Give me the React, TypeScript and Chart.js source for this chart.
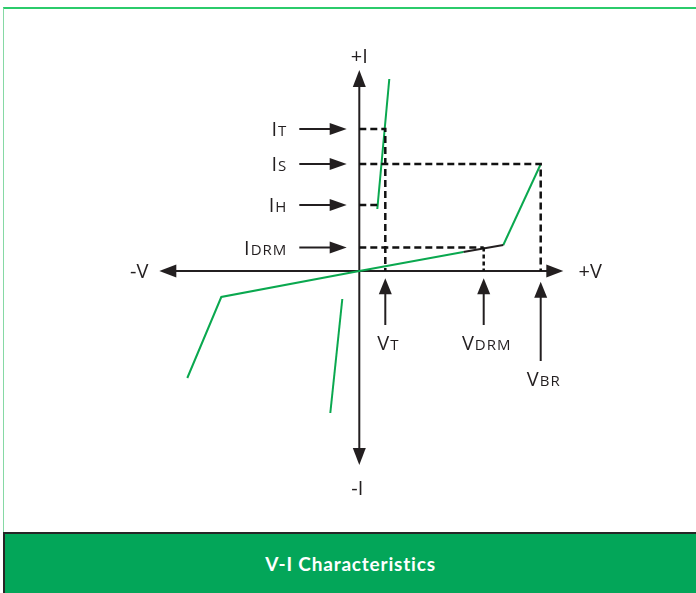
import React, { useEffect, useRef } from "react";
import { Chart, registerables } from "chart.js";

Chart.register(...registerables);

// ---- data (arbitrary V / I units, origin at the axes crossing) ----
const reverseAndBlockingV = [-17.2, -13.8, 0, 10.4];
const reverseAndBlockingI = [-10.7, -2.6, 0, 1.9];
const nearBreakoverV = [10.4, 14.4];
const nearBreakoverI = [1.9, 2.6];
const breakoverV = [14.4, 18.1];
const breakoverI = [2.6, 10.6];
const onStateV = [1.8, 3.0];
const onStateI = [6.2, 19.2];
const reverseBranchV = [-1.7, -2.9];
const reverseBranchI = [-2.8, -14.2];

const currentSubs = ["T", "S", "H", "DRM"];
const currentLevels = [14.2, 10.7, 6.6, 2.35];
const voltageSubs = ["T", "DRM", "BR"];
const voltageLevels = [2.6, 12.44, 18.14];

const axisV = [-20.0, 20.4];
const axisI = [-19.4, 20.1];

const currentArrowTail = -6.0;
const currentArrowTip = -1.26;
const currentLabelRight = -7.2;
const voltageArrowTips = [-0.73, -0.73, -1.07];
const voltageArrowTails = [-5.4, -5.4, -9.0];
const voltageLabelI = [-7.2, -7.2, -10.8];

const axisTitles = ["+I", "-I", "-V", "+V"];
const axisTitleV = [0, -0.2, -22.0, 23.1];
const axisTitleI = [21.5, -21.7, 0, 0];

const GREEN = "#0aa84f";
const INK = "#231f20";
const FONT = "'Open Sans', 'DejaVu Sans', sans-serif";
const MAIN_PX = 20;
const SUB_PX = 15;

const pts = (xs: number[], ys: number[]) => xs.map((x, i) => ({ x, y: ys[i] }));

function arrow(ctx: CanvasRenderingContext2D, x1: number, y1: number, x2: number, y2: number, len = 17, half = 6.5) {
  const dx = x2 - x1, dy = y2 - y1;
  const d = Math.hypot(dx, dy);
  const ux = dx / d, uy = dy / d;
  const bx = x2 - ux * len, by = y2 - uy * len;
  ctx.beginPath();
  ctx.moveTo(x1, y1);
  ctx.lineTo(bx + ux, by + uy);
  ctx.stroke();
  ctx.beginPath();
  ctx.moveTo(x2, y2);
  ctx.lineTo(bx - uy * half, by + ux * half);
  ctx.lineTo(bx + uy * half, by - ux * half);
  ctx.closePath();
  ctx.fill();
}

function subLabel(ctx: CanvasRenderingContext2D, main: string, sub: string, x: number, yc: number, align: "left" | "right" | "center") {
  const c: any = ctx;
  c.letterSpacing = "0px";
  ctx.font = `${MAIN_PX}px ${FONT}`;
  const w1 = ctx.measureText(main).width;
  ctx.font = `${SUB_PX}px ${FONT}`;
  c.letterSpacing = "1px";
  const w2 = ctx.measureText(sub).width;
  const gap = 1;
  const total = w1 + gap + w2;
  let sx = x;
  if (align === "right") sx = x - total;
  else if (align === "center") sx = x - total / 2;
  const base = yc + MAIN_PX * 0.35;
  ctx.textAlign = "left";
  ctx.textBaseline = "alphabetic";
  c.letterSpacing = "0px";
  ctx.font = `${MAIN_PX}px ${FONT}`;
  ctx.fillText(main, sx, base);
  ctx.font = `${SUB_PX}px ${FONT}`;
  c.letterSpacing = "1px";
  ctx.fillText(sub, sx + w1 + gap, base);
  c.letterSpacing = "0px";
}

const diagramPlugin = {
  id: "viDiagram",
  beforeDatasetsDraw(chart: any) {
    const { ctx, scales } = chart;
    const X = (v: number) => scales.x.getPixelForValue(v);
    const Y = (v: number) => scales.y.getPixelForValue(v);
    ctx.save();
    ctx.strokeStyle = INK;
    ctx.fillStyle = INK;
    ctx.lineWidth = 2;
    ctx.setLineDash([]);
    arrow(ctx, X(0), Y(0), X(axisV[0]), Y(0));
    arrow(ctx, X(0), Y(0), X(axisV[1]), Y(0));
    arrow(ctx, X(0), Y(0), X(0), Y(axisI[1]));
    arrow(ctx, X(0), Y(0), X(0), Y(axisI[0]));
    ctx.restore();
  },
  afterDatasetsDraw(chart: any) {
    const { ctx, scales } = chart;
    const X = (v: number) => scales.x.getPixelForValue(v);
    const Y = (v: number) => scales.y.getPixelForValue(v);
    ctx.save();
    ctx.strokeStyle = INK;
    ctx.fillStyle = INK;
    ctx.lineWidth = 2;
    ctx.setLineDash([]);
    currentLevels.forEach((lv, i) => {
      arrow(ctx, X(currentArrowTail), Y(lv), X(currentArrowTip), Y(lv), 17, 6);
      subLabel(ctx, "I", currentSubs[i], X(currentLabelRight), Y(lv), "right");
    });
    voltageLevels.forEach((lv, i) => {
      arrow(ctx, X(lv), Y(voltageArrowTails[i]), X(lv), Y(voltageArrowTips[i]), 16, 6.5);
      subLabel(ctx, "V", voltageSubs[i], X(lv) + 3, Y(voltageLabelI[i]), "center");
    });
    ctx.font = `${MAIN_PX}px ${FONT}`;
    ctx.textAlign = "center";
    ctx.textBaseline = "alphabetic";
    axisTitles.forEach((t, i) => {
      ctx.fillText(t, X(axisTitleV[i]), Y(axisTitleI[i]) + MAIN_PX * 0.35);
    });
    ctx.restore();
  },
};

export default function App() {
  const ref = useRef<HTMLCanvasElement | null>(null);

  useEffect(() => {
    let chart: Chart | null = null;
    let cancelled = false;
    const build = () => {
      if (cancelled || !ref.current) return;
      const solid = (data: any[], color: string) => ({
        data, borderColor: color, borderWidth: 2, showLine: true, pointRadius: 0, fill: false, tension: 0, clip: false as any,
      });
      const dashed = (data: any[], dash: number[]) => ({
        data, borderColor: "#111", borderWidth: 2.5, borderDash: dash, showLine: true, pointRadius: 0, fill: false, tension: 0, clip: false as any,
      });
      const [IT, IS, IH, IDRM] = currentLevels;
      const [VT, VDRM, VBR] = voltageLevels;
      chart = new Chart(ref.current, {
        type: "scatter",
        data: {
          datasets: [
            dashed([{ x: 0, y: IT }, { x: VT, y: IT }, { x: VT, y: 0 }], [7, 4]),
            dashed([{ x: 0, y: IS }, { x: VBR, y: IS }, { x: VBR, y: 0 }], [7, 4]),
            dashed([{ x: 0, y: IH }, { x: onStateV[0], y: IH }], [7, 4]),
            dashed([{ x: 0, y: IDRM }, { x: VDRM, y: IDRM }], [7, 4]),
            dashed([{ x: VDRM, y: IDRM }, { x: VDRM, y: 0 }], [4, 3]),
            solid(pts(reverseAndBlockingV, reverseAndBlockingI), GREEN),
            solid(pts(nearBreakoverV, nearBreakoverI), INK),
            solid(pts(breakoverV, breakoverI), GREEN),
            solid(pts(onStateV, onStateI), GREEN),
            solid(pts(reverseBranchV, reverseBranchI), GREEN),
          ] as any,
        },
        options: {
          responsive: false,
          animation: false,
          events: [],
          layout: { padding: 0 },
          plugins: { legend: { display: false }, tooltip: { enabled: false }, title: { display: false } },
          scales: {
            x: { type: "linear", min: -35.93, max: 33.67, display: false },
            y: { type: "linear", min: -25.9, max: 27.1, display: false },
          },
        },
        plugins: [diagramPlugin],
      });
    };
    const fontsReady = (document as any).fonts
      ? Promise.all([
          (document as any).fonts.load(`${MAIN_PX}px "Open Sans"`),
          (document as any).fonts.load(`${SUB_PX}px "Open Sans"`),
        ]).catch(() => null)
      : Promise.resolve(null);
    fontsReady.then(build);
    return () => {
      cancelled = true;
      if (chart) chart.destroy();
    };
  }, []);

  return (
    <div style={{ position: "fixed", left: 0, top: 0, width: 696, height: 593, background: "#fff", overflow: "hidden" }}>
      <div style={{ position: "absolute", left: 3, top: 7, width: 700, height: 525, borderTop: "2px solid #2bcb6b", borderLeft: "1px solid #86d9a5", boxSizing: "border-box" }} />
      <canvas ref={ref} width={696} height={530} style={{ position: "absolute", left: 0, top: 0 }} />
      <div
        style={{
          position: "absolute", left: 3, top: 532, width: 700, height: 61, boxSizing: "border-box",
          background: "#03a659", borderTop: "2px solid #262626", borderLeft: "2px solid #262626",
          display: "flex", alignItems: "center", justifyContent: "center", paddingRight: 7,
          color: "#fff", fontFamily: "Lato, 'Open Sans', sans-serif", fontWeight: 700, fontSize: 19, letterSpacing: 0.8,
        }}
      >
        V-I Characteristics
      </div>
    </div>
  );
}
